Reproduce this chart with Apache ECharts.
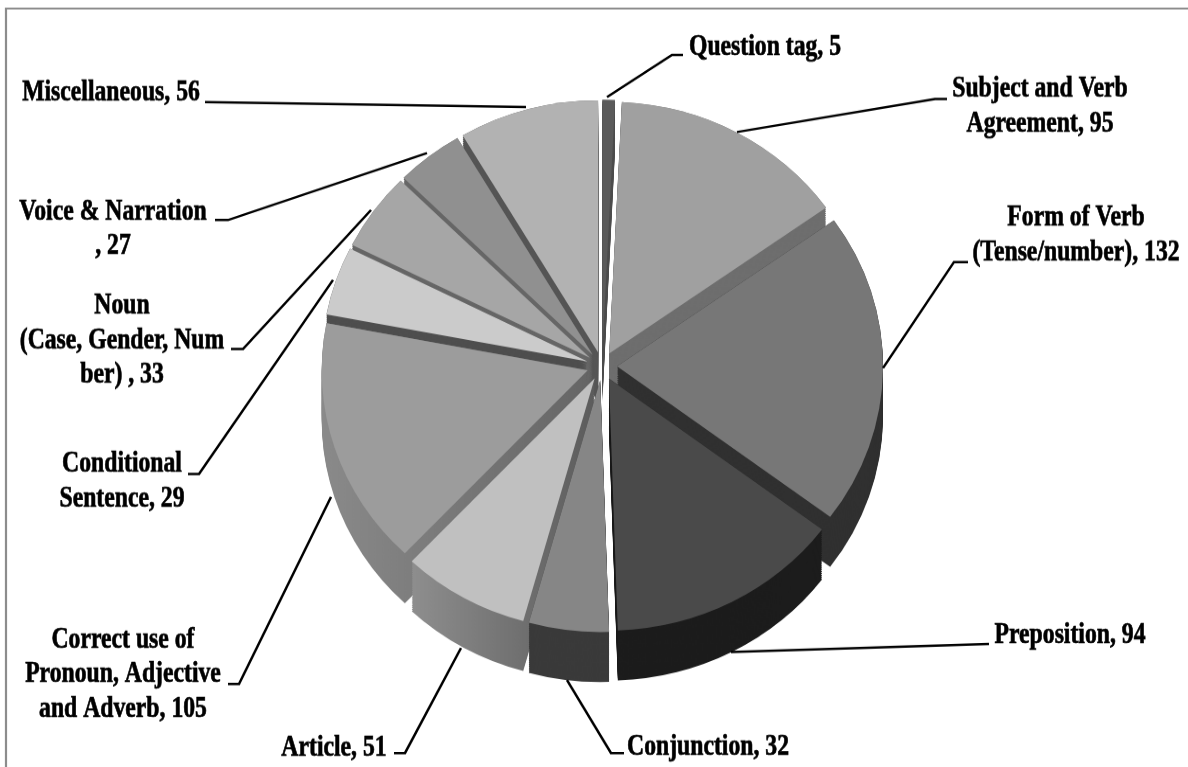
<!DOCTYPE html>
<html><head><meta charset="utf-8">
<style>html,body{margin:0;padding:0;background:#fff;overflow:hidden;width:1188px;height:767px}
#c{width:1188px;height:810px;transform:scaleY(.947);transform-origin:0 0}</style>
<script src="https://cdn.jsdelivr.net/npm/echarts@6/dist/echarts.min.js"></script>
</head><body><div id="c"></div>
<script>
const categories=['Question tag','Subject and Verb Agreement','Form of Verb (Tense/number)','Preposition','Conjunction','Article','Correct use of Pronoun, Adjective and Adverb','Conditional Sentence','Noun (Case, Gender, Number)','Voice & Narration','Miscellaneous'];
const values=[5,95,132,94,32,51,105,29,33,27,56];
const labelPrefixes=['Question tag, ','Subject and Verb\nAgreement, ','Form of Verb\n(Tense/number), ','Preposition, ','Conjunction, ','Article, ','Correct use of\nPronoun, Adjective\nand Adverb, ','Conditional\nSentence, ','Noun\n(Case, Gender, Num\nber) , ','Voice & Narration\n, ','Miscellaneous, '];
const faceColors=['#5a5a5a','#a0a0a0','#777777','#4a4a4a','#868686','#c0c0c0','#9c9c9c','#cbcbcb','#a6a6a6','#909090','#b2b2b2'];
const sideColors=['#4e4e4e','#6e6e6e','#303030','#1c1c1c','#3a3a3a',['#8e8e8e','#5c5c5c'],['#8a8a8a','#666666'],'#4e4e4e','#666666','#666666','#555555'];
const labelAnchors=[[765,47],[1040,89],[1076,218],[1070,635],[708,747],[334,748],[123,640],[122,464],[122,306],[113,212],[111,93]];
const leaderLines=[
 [[607,97],[672,55],[683,55]],
 [[737,132],[935,99],[947,99]],
 [[883,368],[954,262],[968,262]],
 [[731,652],[989,644]],
 [[567,680],[611,753],[624,753]],
 [[461,648],[405,753],[394,753]],
 [[331,497],[239,684],[228,684]],
 [[333,280],[199,474],[188,474]],
 [[371,210],[243,349],[231,349]],
 [[427,153],[228,220],[215,220]],
 [[526,107],[205,102]]
];
const S=.947, cx=602, cy=366/S, R=266, explode=15, depth=50/S, step=2/S;
const font='"Liberation Serif","Times New Roman",serif';
const col=c=>Array.isArray(c)?{type:'linear',x:0,y:0,x2:1,y2:0,colorStops:[{offset:0,color:c[0]},{offset:1,color:c[1]}]}:c;
const pie=(dy,colors,z)=>({
  type:'pie',center:[cx,cy+dy],radius:[0,R],startAngle:90,clockwise:true,
  selectedMode:'multiple',selectedOffset:explode,silent:true,z:z,
  animation:false,avoidLabelOverlap:false,
  label:{show:false},labelLine:{show:false},
  emphasis:{disabled:true},select:{itemStyle:{borderWidth:0}},
  itemStyle:{borderWidth:0},
  data:categories.map((n,i)=>({name:n,value:values[i],selected:true,itemStyle:{color:col(colors[i])}}))
});
const series=[];
let zi=1;
for(let d=depth;d>0;d-=step) series.push(pie(d,sideColors,zi++));
series.push(pie(0,faceColors,zi++));
const border={type:'polyline',z:100,shape:{points:[[6,810],[6,8.5/S],[1188,8.5/S]]},style:{stroke:'#8c8c8c',lineWidth:2.2,fill:null}};
const lines=leaderLines.map(p=>({type:'polyline',z:101,shape:{points:p.map(q=>[q[0],q[1]/S])},style:{stroke:'#000',lineWidth:2.5,fill:null}}));
const texts=labelPrefixes.map((t,i)=>{
  const lh=34.5;
  return {type:'text',z:102,x:labelAnchors[i][0],y:(labelAnchors[i][1]-lh/2)/S,scaleX:.79,scaleY:1/S,
    style:{text:t+values[i],fill:'#000',stroke:'#000',lineWidth:.7,font:'bold 30px '+font,lineHeight:lh,textAlign:'center',textVerticalAlign:'top'}};
});
const chart=echarts.init(document.getElementById('c'),null,{renderer:'canvas'});
chart.setOption({animation:false,backgroundColor:'#fff',tooltip:{show:false},legend:{show:false},series,graphic:{elements:[border,...lines,...texts]}});
</script></body></html>
